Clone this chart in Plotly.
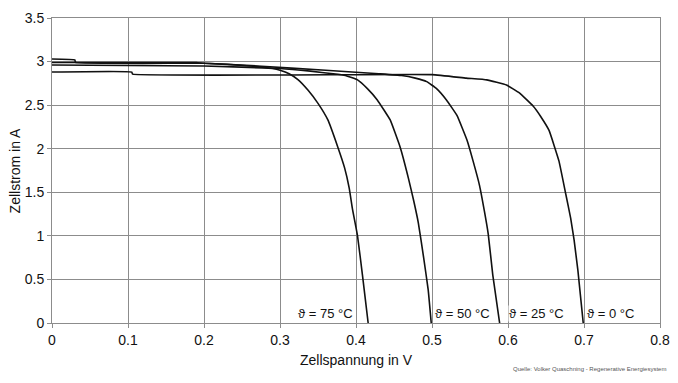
import plotly.graph_objects as go

# Zellspannung (V) / Zellstrom (A) for each temperature
v_75 = [0.0, 0.03, 0.031, 0.20, 0.26, 0.29, 0.30, 0.312, 0.324, 0.337, 0.350, 0.363, 0.376, 0.385, 0.391, 0.3955, 0.402, 0.4085, 0.416]
i_75 = [3.03, 3.02, 2.99, 2.98, 2.95, 2.92, 2.90, 2.86, 2.79, 2.67, 2.52, 2.33, 2.02, 1.78, 1.55, 1.30, 1.00, 0.55, 0.0]

v_50 = [0.0, 0.20, 0.30, 0.34, 0.37, 0.386, 0.402, 0.415, 0.428, 0.445, 0.458, 0.469, 0.476, 0.482, 0.489, 0.495, 0.499]
i_50 = [2.96, 2.95, 2.92, 2.89, 2.86, 2.84, 2.79, 2.69, 2.56, 2.33, 2.02, 1.66, 1.40, 1.15, 0.75, 0.38, 0.0]

v_25 = [0.0, 0.19, 0.20, 0.27, 0.36, 0.43, 0.46, 0.478, 0.493, 0.506, 0.519, 0.533, 0.546, 0.554, 0.5625, 0.569, 0.574, 0.580, 0.589]
i_25 = [2.99, 2.99, 2.98, 2.95, 2.90, 2.86, 2.84, 2.81, 2.77, 2.69, 2.56, 2.38, 2.10, 1.86, 1.58, 1.28, 1.02, 0.55, 0.0]

v_0 = [0.0, 0.105, 0.106, 0.50, 0.545, 0.572, 0.598, 0.615, 0.633, 0.643, 0.654, 0.667, 0.676, 0.6825, 0.687, 0.692, 0.699]
i_0 = [2.88, 2.88, 2.855, 2.85, 2.81, 2.79, 2.73, 2.64, 2.49, 2.37, 2.21, 1.86, 1.48, 1.20, 0.95, 0.60, 0.0]

labels = ["ϑ = 75 °C", "ϑ = 50 °C", "ϑ = 25 °C", "ϑ = 0 °C"]
label_x = [0.397, 0.5025, 0.600, 0.703]
label_anchor = ["right", "left", "left", "left"]
label_y = 0.11

x_ticks = [0, 0.1, 0.2, 0.3, 0.4, 0.5, 0.6, 0.7, 0.8]
x_ticktext = ["0", "0.1", "0.2", "0.3", "0.4", "0.5", "0.6", "0.7", "0.8"]
y_ticks = [0, 0.5, 1, 1.5, 2, 2.5, 3, 3.5]
y_ticktext = ["0", "0.5", "1", "1.5", "2", "2.5", "3", "3.5"]

FONT = "Liberation Sans, Arial"

fig = go.Figure()
for vx, iy in [(v_75, i_75), (v_50, i_50), (v_25, i_25), (v_0, i_0)]:
    fig.add_trace(go.Scatter(x=vx, y=iy, mode="lines",
                             line=dict(color="#111111", width=1.6, shape="spline", smoothing=0.3),
                             showlegend=False, hoverinfo="skip"))

for t, x, a in zip(labels, label_x, label_anchor):
    fig.add_annotation(x=x, y=label_y, text=t, showarrow=False, xanchor=a, yanchor="middle",
                       font=dict(family=FONT, size=13, color="#111111"),
                       bgcolor="white", borderpad=0)

# axis titles as paper annotations (fixed positions)
fig.add_annotation(xref="paper", yref="paper", x=0.5, y=-0.121, xanchor="center", yanchor="middle",
                   text="Zellspannung in V", showarrow=False,
                   font=dict(family=FONT, size=14, color="#111111"))
fig.add_annotation(xref="paper", yref="paper", x=-0.061, y=0.5, xanchor="center", yanchor="middle",
                   text="Zellstrom in A", textangle=-90, showarrow=False,
                   font=dict(family=FONT, size=14, color="#111111"))

fig.add_annotation(xref="paper", yref="paper", x=1.013, y=-0.152, xanchor="right", yanchor="middle",
                   text="Quelle: Volker Quaschning - Regenerative Energiesystem", showarrow=False,
                   font=dict(family=FONT, size=6, color="#555555"))

axis_common = dict(showgrid=True, gridcolor="#8c8c8c", gridwidth=1, showline=True, linecolor="#8c8c8c",
                   linewidth=1, mirror=True, ticks="outside", ticklen=4, tickcolor="#8c8c8c",
                   zeroline=False, automargin=False,
                   tickfont=dict(family=FONT, size=14, color="#111111"))

fig.update_xaxes(range=[0, 0.8], tickvals=x_ticks, ticktext=x_ticktext, **axis_common)
fig.update_yaxes(range=[0, 3.5], tickvals=y_ticks, ticktext=y_ticktext, **axis_common)

# page body has an 8px default margin, so the figure is sized to fit inside the window
fig.update_layout(width=662, height=367, margin=dict(l=44, r=10, t=10, b=52),
                  plot_bgcolor="white", paper_bgcolor="white")

fig.write_html("out.html")
